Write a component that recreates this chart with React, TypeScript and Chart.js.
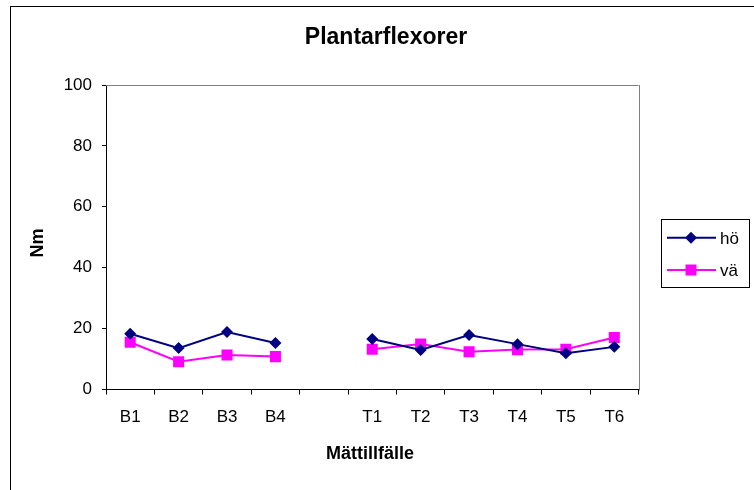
import { useEffect, useRef } from 'react';
import { Chart, registerables } from 'chart.js';

Chart.register(...registerables);

// Measurement occasions (the empty slot separates the B and T series)
const categories = ['B1', 'B2', 'B3', 'B4', '', 'T1', 'T2', 'T3', 'T4', 'T5', 'T6'];
const seriesNames = ['hö', 'vä'];
const hoValues = [18.3, 13.6, 18.9, 15.3, null, 16.6, 13.0, 17.9, 14.9, 11.9, 14.0];
const vaValues = [15.5, 9.1, 11.3, 10.8, null, 13.2, 14.9, 12.4, 13.1, 13.2, 17.1];
const yMin = 0;
const yMax = 100;
const yStep = 20;

const chartTitle = 'Plantarflexorer';
const yAxisTitle = 'Nm';
const xAxisTitle = 'Mättillfälle';

const FONT = '"Liberation Sans", Arial, Helvetica, sans-serif';
const NAVY = '#000080';
const MAGENTA = '#FF00FF';

function drawMarker(ctx: CanvasRenderingContext2D, style: string, x: number, y: number, color: string) {
  ctx.fillStyle = color;
  ctx.beginPath();
  if (style === 'rectRot') {
    const r = 6;
    ctx.moveTo(x - r, y);
    ctx.lineTo(x, y - r);
    ctx.lineTo(x + r, y);
    ctx.lineTo(x, y + r);
  } else {
    const s = 5.5;
    ctx.rect(x - s, y - s, 2 * s, 2 * s);
  }
  ctx.closePath();
  ctx.fill();
}

const decorations = {
  id: 'decorations',
  afterDraw(chart: any) {
    const { ctx, chartArea: a } = chart;
    ctx.save();

    // outer chart frame
    ctx.fillStyle = '#000';
    ctx.fillRect(10, 6, chart.width - 10, 1);
    ctx.fillRect(10, 6, 1, chart.height - 6);

    // plot area frame (top and right)
    ctx.fillStyle = '#808080';
    ctx.fillRect(a.left, a.top, a.right - a.left, 1);
    ctx.fillRect(Math.round(a.right), a.top, 1, a.bottom - a.top + 1);

    // titles
    ctx.fillStyle = '#000';
    ctx.textAlign = 'center';
    ctx.textBaseline = 'alphabetic';
    ctx.font = `bold 23px ${FONT}`;
    ctx.fillText(chartTitle, 386, 43.5);

    ctx.font = `bold 18px ${FONT}`;
    ctx.fillText(xAxisTitle, 370, 459);

    ctx.save();
    ctx.translate(42.5, 243);
    ctx.rotate(-Math.PI / 2);
    ctx.fillText(yAxisTitle, 0, 0);
    ctx.restore();

    // legend
    const bx = 661, by = 219, bw = 88, bh = 68;
    ctx.fillStyle = '#fff';
    ctx.fillRect(bx, by, bw, bh);
    ctx.strokeStyle = '#000';
    ctx.lineWidth = 1;
    ctx.strokeRect(bx + 0.5, by + 0.5, bw, bh);

    const rows = [237.7, 270];
    chart.data.datasets.forEach((ds: any, i: number) => {
      const y = rows[i];
      ctx.strokeStyle = ds.borderColor;
      ctx.lineWidth = 2;
      ctx.beginPath();
      ctx.moveTo(667, y);
      ctx.lineTo(716, y);
      ctx.stroke();
      drawMarker(ctx, ds.pointStyle, 691, y, ds.pointBackgroundColor);
      ctx.fillStyle = '#000';
      ctx.font = `17px ${FONT}`;
      ctx.textAlign = 'left';
      ctx.textBaseline = 'alphabetic';
      ctx.fillText(ds.label, 720, y + 6);
    });

    ctx.restore();
  },
};

export default function App() {
  const canvasRef = useRef<HTMLCanvasElement | null>(null);

  useEffect(() => {
    const canvas = canvasRef.current;
    if (!canvas) return;
    const chart = new Chart(canvas, {
      type: 'line',
      data: {
        labels: categories,
        datasets: [
          {
            label: seriesNames[0],
            data: hoValues,
            borderColor: NAVY,
            backgroundColor: NAVY,
            pointBackgroundColor: NAVY,
            pointBorderColor: NAVY,
            pointStyle: 'rectRot',
            pointRadius: 6,
            pointBorderWidth: 0,
            borderWidth: 2,
            tension: 0,
            spanGaps: false,
          },
          {
            label: seriesNames[1],
            data: vaValues,
            borderColor: MAGENTA,
            backgroundColor: MAGENTA,
            pointBackgroundColor: MAGENTA,
            pointBorderColor: MAGENTA,
            pointStyle: 'rect',
            pointRadius: 7.8,
            pointBorderWidth: 0,
            borderWidth: 2,
            tension: 0,
            spanGaps: false,
          },
        ],
      },
      options: {
        responsive: false,
        animation: false,
        events: [],
        layout: { padding: { top: 85, left: 0, right: 115.5, bottom: 0 } },
        plugins: {
          legend: { display: false },
          title: { display: false },
          tooltip: { enabled: false },
        },
        scales: {
          x: {
            type: 'category',
            offset: true,
            afterFit: (scale: any) => {
              scale.height = 100.5;
            },
            grid: {
              offset: true,
              drawOnChartArea: false,
              drawTicks: true,
              tickLength: 5,
              color: '#000',
            },
            border: { color: '#000', width: 1 },
            ticks: {
              color: '#000',
              font: { family: FONT, size: 17 },
              padding: 13,
              autoSkip: false,
              maxRotation: 0,
            },
          },
          y: {
            min: yMin,
            max: yMax,
            afterFit: (scale: any) => {
              scale.width = 106;
            },
            grid: {
              drawOnChartArea: false,
              drawTicks: true,
              tickLength: 4,
              color: '#000',
            },
            border: { color: '#000', width: 1 },
            ticks: {
              stepSize: yStep,
              color: '#000',
              font: { family: FONT, size: 17 },
              padding: 10,
            },
          },
        },
      },
      plugins: [decorations],
    });
    return () => chart.destroy();
  }, []);

  return (
    <div style={{ position: 'fixed', left: 0, top: 0, width: 754, height: 490, background: '#fff' }}>
      <canvas ref={canvasRef} width={754} height={490} style={{ display: 'block' }} />
    </div>
  );
}
